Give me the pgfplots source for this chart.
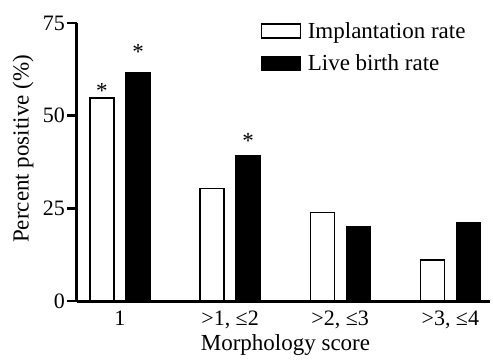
\documentclass[border=0pt]{standalone}
\usepackage{fontspec}
\setmainfont{Liberation Serif}
\usepackage{pgfplots}
\pgfplotsset{compat=1.18}
\usepackage{pgfplotstable}
\newcommand\fs{\fontsize{23}{27}\selectfont}
\newcommand\ft{\fontsize{22}{26}\selectfont}

\pgfplotstableread{
x y
0 54.8
1 30.3
2 23.8
3 11.1
}\impl
\pgfplotstableread{
x y
0 61.7
1 39.1
2 20.0
3 21.1
}\live
% significance markers (x offset = bar shift in axis units)
\pgfplotstableread{
x y lab
-0.164 57.7 *
0.164 68.2 *
1.164 44.0 *
}\stars

\begin{document}
\begin{tikzpicture}
\begin{axis}[
  scale only axis, width=413pt, height=278pt,
  xmin=-0.39, xmax=3.36, ymin=0, ymax=75,
  ytick={0,25,50,75},
  xtick={0,1,2,3},
  xticklabels={1, {>1, ≤2}, {>2, ≤3}, {>3, ≤4}},
  axis x line*=bottom, axis y line*=left,
  axis line style={line width=3pt, -},
  tick align=outside,
  major tick length=10pt,
  ytick style={line width=2.5pt, black},
  xtick style={draw=none},
  /pgf/number format/assume math mode=true,
  tick label style={font=\ft},
  yticklabel style={inner sep=2pt},
  xticklabel style={yshift=4pt},
  every axis y label/.style={at={(axis description cs:0,0.547)}, xshift=-54pt, rotate=90, anchor=center, font=\fs},
  every axis x label/.style={at={(axis description cs:0.5,0)}, xshift=2pt, yshift=-44pt, anchor=center, font=\fs},
  xlabel={Morphology score},
  ylabel={Percent positive (\%)},
  legend style={draw=none, fill=none, at={(axis description cs:0.443,1)}, xshift=-2pt, yshift=5pt, anchor=north west, font=\fs, row sep=11pt},
  legend cell align=left,
]
\addplot[ybar, bar width=24pt, bar shift=-18pt, fill=white, draw=black, line width=1.3pt,
  legend image code/.code={\draw[fill=white, draw=black, line width=1.3pt] (0pt,-7pt) rectangle (39pt,7pt); \path[draw=none, fill=none] (39pt,0pt) -- (44pt,0pt);}]
  table[x=x, y=y]{\impl};
\addlegendentry{Implantation rate}
\addplot[ybar, bar width=24pt, bar shift=18pt, fill=black, draw=black, line width=1.3pt,
  legend image code/.code={\draw[fill=black, draw=black, line width=1.3pt] (0pt,-7pt) rectangle (39pt,7pt); \path[draw=none, fill=none] (39pt,0pt) -- (44pt,0pt);}]
  table[x=x, y=y]{\live};
\addlegendentry{Live birth rate}
\addplot[only marks, mark=none, forget plot,
  point meta=explicit symbolic,
  nodes near coords={\pgfplotspointmeta},
  every node near coord/.append style={font=\fs, inner sep=0pt, anchor=base, yshift=-11pt}]
  table[x=x, y=y, meta=lab]{\stars};
\coordinate (O) at (rel axis cs:0,0);
\coordinate (T) at (rel axis cs:1,1);
\end{axis}
\pgfresetboundingbox
\path[use as bounding box] ([shift={(-77pt,-61pt)}]O) rectangle ([shift={(3pt,23pt)}]T);
\end{tikzpicture}
\end{document}
